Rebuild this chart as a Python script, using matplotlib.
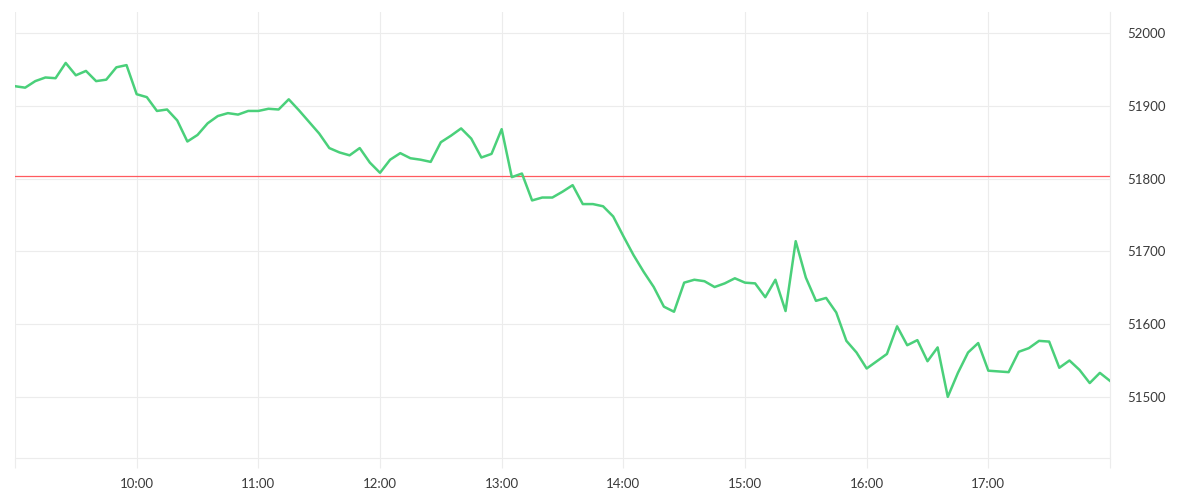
import matplotlib
matplotlib.use("Agg")
import matplotlib.pyplot as plt
import pandas as pd

# 5-minute prices, 09:00 .. 18:00
price = [51927, 51925, 51934, 51939, 51938, 51959, 51942, 51948, 51934, 51936, 51953, 51956,
         51916, 51912, 51893, 51895, 51880, 51851, 51860, 51876, 51886, 51890, 51888, 51893,
         51893, 51896, 51895, 51909, 51894, 51878, 51862, 51842, 51836, 51832, 51842, 51822,
         51808, 51826, 51835, 51828, 51826, 51823, 51850, 51859, 51869, 51855, 51829, 51834,
         51868, 51802, 51807, 51770, 51774, 51774, 51782, 51791, 51765, 51765, 51762, 51748,
         51721, 51695, 51672, 51651, 51624, 51617, 51657, 51661, 51659, 51651, 51656, 51663,
         51657, 51656, 51637, 51661, 51618, 51714, 51664, 51632, 51636, 51616, 51577, 51561,
         51539, 51549, 51559, 51597, 51571, 51578, 51549, 51568, 51500, 51533, 51561, 51574,
         51536, 51535, 51534, 51562, 51567, 51577, 51576, 51540, 51550, 51537, 51519, 51533,
         51522]
ref_price = 51803
y_ticks = [51500, 51600, 51700, 51800, 51900, 52000]

times = pd.date_range("2024-01-02 09:00", periods=len(price), freq="5min")

plt.rcParams['font.family'] = ['Lato', 'DejaVu Sans']

fig = plt.figure(figsize=(12, 5), dpi=100)
ax = fig.add_axes([0.0125, 0.084, 0.9125, 0.892])

ax.plot(times, price, color="#4ad07a", lw=1.8, zorder=3)
ax.axhline(ref_price, color="#ff5a5f", lw=0.9, zorder=2)

ax.set_xlim(times[0], times[-1])
ax.set_ylim(51416, 52029)

hours = pd.date_range(times[0], times[-1], freq="1h")
ax.set_xticks(hours)
ax.set_xticklabels(["" if i in (0, len(hours) - 1) else h.strftime("%H:%M")
                    for i, h in enumerate(hours)])
ax.set_yticks(y_ticks)
ax.yaxis.tick_right()

ax.grid(True, color="#ececec", lw=0.8)
ax.set_axisbelow(True)
for s in ["top", "left"]:
    ax.spines[s].set_visible(False)
for s in ["bottom", "right"]:
    ax.spines[s].set_color("#ececec")
    ax.spines[s].set_linewidth(0.8)

ax.tick_params(axis="x", length=7.2, width=0.8, color="#ececec", pad=7,
               labelsize=9.5, labelcolor="#3a3a3a")
ax.tick_params(axis="y", length=0, pad=12.5, labelsize=9.5, labelcolor="#3a3a3a")

fig.savefig("out.png", dpi=100, facecolor="white")
